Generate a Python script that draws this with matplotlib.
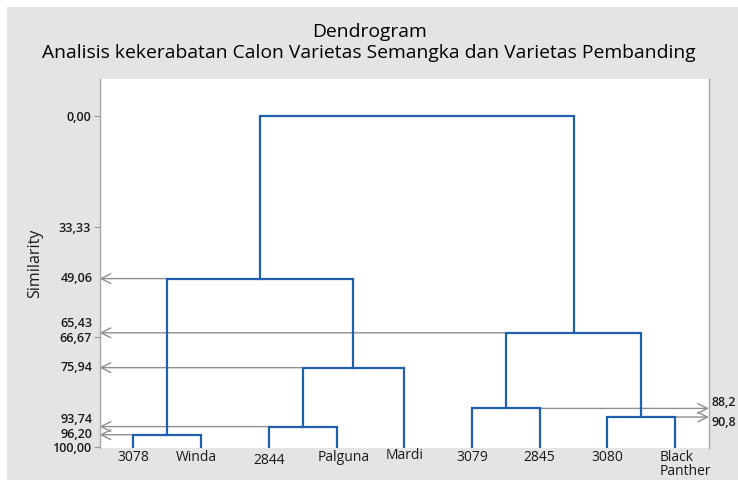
import matplotlib
matplotlib.use("Agg")
import matplotlib.pyplot as plt
from matplotlib.patches import Rectangle

plt.rcParams['font.family'] = ['Open Sans', 'DejaVu Sans']

# ---- data ----
leaves = ["3078", "Winda", "2844", "Palguna", "Mardi", "3079", "2845", "3080", "Black\nPanther"]
# merges: (child a, child b, similarity); leaves are 0..8, new clusters 9..
merge_a = [0, 2, 10, 9, 5, 7, 13, 12]
merge_b = [1, 3, 4, 11, 6, 8, 14, 15]
merge_sim = [96.20, 93.74, 75.94, 49.06, 88.25, 90.85, 65.43, 0.00]
major_ticks = [0.00, 33.33, 66.67, 100.00]
major_labels = ["0,00", "33,33", "66,67", "100,00"]
left_refs = [49.06, 65.43, 75.94, 93.74, 96.20]
left_ref_labels = ["49,06", "65,43", "75,94", "93,74", "96,20"]
right_refs = [88.25, 90.85]
right_ref_labels = ["88,2", "90,8"]
title1 = "Dendrogram"
title2 = "Analisis kekerabatan Calon Varietas Semangka dan Varietas Pembanding"
ylabel = "Similarity"

BLUE = "#1f5fad"
GRAY = "#8f8f8f"
BG = "#e4e4e4"
TXT = "#1a1a1a"
TICKFS = 9

W, H = 738, 480
fig = plt.figure(figsize=(W / 100, H / 100), dpi=100)
fig.patch.set_facecolor("white")
fig.patches.append(Rectangle((7 / W, 0), 1, 1 - 7 / H, transform=fig.transFigure,
                             facecolor=BG, edgecolor="none", zorder=-10))

ax = fig.add_axes([99.5 / W, 1 - 448 / H, (709 - 99.5) / W, (448 - 79) / H])
ax.set_facecolor("white")
ax.set_xlim(0.5, 9.5)
ax.set_ylim(100.2, -11.2)

# ---- dendrogram geometry from data ----
xpos = {i: float(i + 1) for i in range(len(leaves))}
ypos = {i: 100.0 for i in range(len(leaves))}
segs = []
for k, (a, b, s) in enumerate(zip(merge_a, merge_b, merge_sim)):
    node = len(leaves) + k
    xa, xb = xpos[a], xpos[b]
    ax.plot([xa, xa, xb, xb], [ypos[a], s, s, ypos[b]], color=BLUE, lw=1.6,
            solid_joinstyle="miter", zorder=3)
    xpos[node] = (xa + xb) / 2
    ypos[node] = s
    segs.append((min(xa, xb), max(xa, xb), s))

seg_by_sim = {s: (l, r) for l, r, s in segs}

arrow_kw = dict(arrowstyle="->,head_length=0.7,head_width=0.35", color=GRAY, lw=1.0,
                shrinkA=0, shrinkB=0)
# left reference lines
left_offsets = {65.43: -9.5, 93.74: -7.5}
for v, lab in zip(left_refs, left_ref_labels):
    l, r = seg_by_sim[v]
    ax.annotate("", xy=(0.5, v), xytext=(l, v), arrowprops=arrow_kw, zorder=2)
    ax.annotate(lab, xy=(0, v), xycoords=("axes fraction", "data"),
                xytext=(-7, -left_offsets.get(v, 0)), textcoords="offset pixels",
                ha="right", va="center", fontsize=TICKFS, fontweight="semibold",
                color=TXT)
# right reference lines
right_offsets = {88.25: -6, 90.85: 5.5}
for v, lab in zip(right_refs, right_ref_labels):
    l, r = seg_by_sim[v]
    ax.annotate("", xy=(9.5, v), xytext=(r, v), arrowprops=arrow_kw, zorder=2)
    ax.annotate(lab, xy=(1, v), xycoords=("axes fraction", "data"),
                xytext=(2, -right_offsets[v]), textcoords="offset pixels",
                ha="left", va="center", fontsize=TICKFS, fontweight="semibold",
                color=TXT, annotation_clip=False)

# ---- axes styling ----
ax.set_yticks(major_ticks)
ax.set_yticklabels(major_labels, fontsize=TICKFS, fontweight="semibold", color=TXT)
ax.tick_params(axis="y", length=4, width=0.8, color="#9a9a9a", pad=2)
ax.set_xticks([])
for side in ("top", "bottom"):
    ax.spines[side].set_visible(False)
for side in ("left", "right"):
    ax.spines[side].set_color("#a8a8a8")
    ax.spines[side].set_linewidth(1.0)

ax.set_ylabel(ylabel, fontsize=11.5, color=TXT)
ax.yaxis.set_label_coords(-56 / (709 - 99.5), 0.5)

# leaf labels
leaf_dx = {1: -5, 3: 7, 8: 10}
leaf_dy = {2: -3, 4: 2}
for i, name in enumerate(leaves):
    ax.annotate(name, xy=(xpos[i], 0), xycoords=("data", "axes fraction"),
                xytext=(leaf_dx.get(i, 0), -2 + leaf_dy.get(i, 0)),
                textcoords="offset pixels", ha="center", va="top",
                multialignment="left", fontsize=10, color=TXT,
                linespacing=0.95, annotation_clip=False)

# titles
fig.text(0.5, 1 - 32 / H, title1, ha="center", va="center", fontsize=13.9, color="#000000")
fig.text(0.5, 1 - 53 / H, title2, ha="center", va="center", fontsize=13.9, color="#000000")

fig.savefig("out.png", dpi=100, facecolor=fig.get_facecolor())
